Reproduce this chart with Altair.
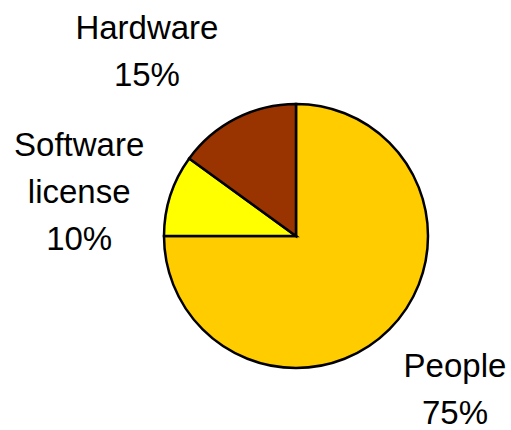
import altair as alt
import pandas as pd

categories = ["People", "Software license", "Hardware"]
shares = [75, 10, 15]
colors = ["#FFCC00", "#FFFF00", "#993300"]

df = pd.DataFrame({"category": categories, "value": shares})

base = alt.Chart(df).transform_window(idx="row_number()")

pie = base.mark_arc(stroke="black", strokeWidth=2.5).encode(
    theta=alt.Theta("value:Q", stack=True),
    order=alt.Order("idx:Q"),
    color=alt.Color("category:N", scale=alt.Scale(domain=categories, range=colors), legend=None),
)

lab_base = (
    alt.Chart(df)
    .transform_window(cum="sum(value)", frame=[None, 0])
    .transform_calculate(
        mid="datum.cum - datum.value / 2",
        label="split(datum.category + ' ' + datum.value + '%', ' ')",
    )
)

def label(cat, r, dx, dy):
    return lab_base.transform_filter(alt.datum.category == cat).mark_text(
        radius=r, dx=dx, dy=dy, font="Liberation Sans", fontSize=33,
        lineHeight=47, align="center", baseline="middle", color="black",
    ).encode(
        theta=alt.Theta("mid:Q", stack=None, scale=alt.Scale(domain=[0, 100], range=[0, 6.283185307])),
        text="label:N",
    )

chart = alt.layer(
    pie,
    label("Hardware", 205, -56, -24),
    label("Software license", 228, 0, -20),
    label("People", 222, 2, -26),
).resolve_scale(theta="independent").properties(
    width=264, height=264,
    padding={"left": 164, "top": 104, "right": 83, "bottom": 62},
    autosize=alt.AutoSizeParams(type="none"),
).configure_view(stroke=None).configure(background="white")

chart.save("out.html", embed_options={"renderer": "svg", "actions": False})
